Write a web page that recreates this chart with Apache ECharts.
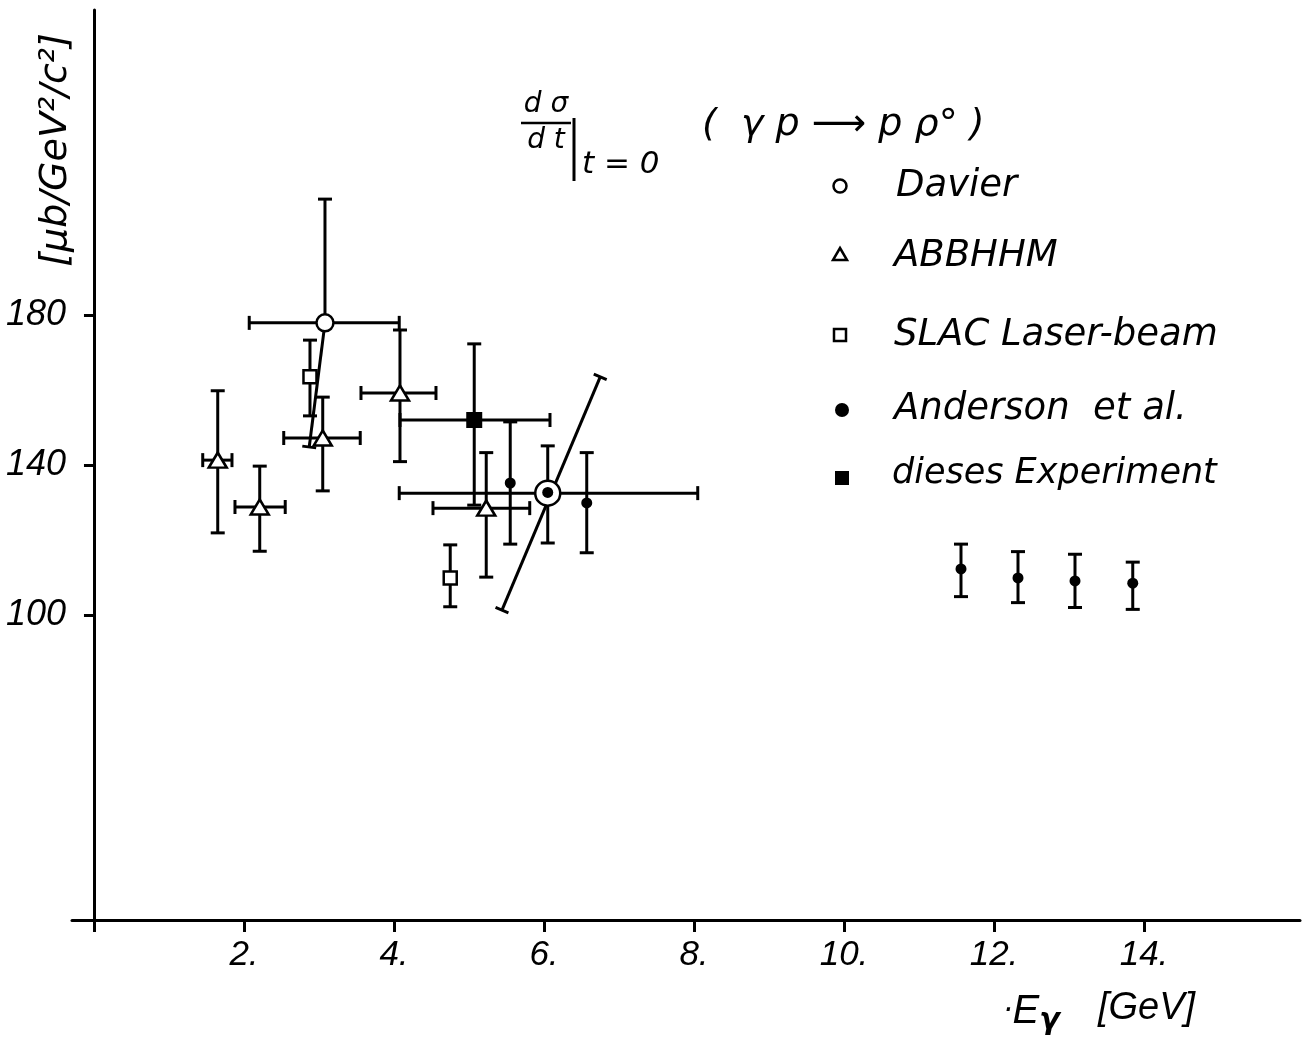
<!DOCTYPE html>
<html><head><meta charset="utf-8">
<script src="https://cdn.jsdelivr.net/npm/echarts@6/dist/echarts.min.js"></script>
<style>html,body{margin:0;padding:0;background:#fff}#c{width:1306px;height:1039px}</style>
</head><body><div id="c"></div>
<script>
// Davier (open circles)
const davierX = [3.08, 6.05];
const davierY = [177.9, 132.5];
const davierXLo = [2.07, 4.07];
const davierXHi = [4.07, 8.05];
const davierYHi = [210.9, null];
const davierSlantLoX = [2.87, 5.44];
const davierSlantLoY = [144.8, 101.3];
const davierSlantHiX = [null, 6.75];
const davierSlantHiY = [null, 163.5];

// ABBHHM (open triangles)
const abbX = [1.65, 2.21, 3.05, 4.08, 5.23];
const abbY = [141.3, 128.8, 147.2, 159.2, 128.5];
const abbXLo = [1.45, 1.88, 2.53, 3.56, 4.52];
const abbXHi = [1.84, 2.55, 3.55, 4.56, 5.81];
const abbYLo = [121.9, 117.0, 133.1, 140.9, 110.1];
const abbYHi = [159.8, 139.7, 158.1, 176.0, 143.3];

// SLAC Laser-beam (open squares)
const slacX = [2.88, 4.75];
const slacY = [163.5, 109.9];
const slacYLo = [153.1, 102.2];
const slacYHi = [173.3, 118.7];

// Anderson et al. (filled circles)
const andX = [5.55, 6.05, 6.57, 11.56, 12.32, 13.08, 13.85];
const andY = [135.2, 132.7, 129.9, 112.3, 109.9, 109.1, 108.5];
const andYLo = [118.9, 119.2, 116.6, 104.9, 103.3, 102.0, 101.5];
const andYHi = [151.5, 145.1, 143.3, 118.9, 116.9, 116.2, 114.1];

// dieses Experiment (filled square)
const expX = [5.07];
const expY = [152.0];
const expXLo = [4.08];
const expXHi = [6.08];
const expYLo = [129.3];
const expYHi = [172.3];

const xTicks = [0, 2, 4, 6, 8, 10, 12, 14];
const xTickLabels = ['', '2.', '4.', '6.', '8.', '10.', '12.', '14.'];
const yTicks = [100, 140, 180];
const yTickLabels = ['100', '140', '180'];

const legendNames = ['Davier', 'ABBHHM', 'SLAC Laser-beam', 'Anderson  et al.', 'dieses Experiment'];

const INK = '#000';
const LABEL_FONT = "'Liberation Sans',sans-serif";
const TEXT_FONT = "'DejaVu Sans',sans-serif";

function errRender(o) {
  return function (params, api) {
    const i = params.dataIndex;
    const c = api.coord([o.x[i], o.y[i]]);
    const ch = [];
    const cap = 7;
    const seg = (a, b) => ch.push({
      type: 'line',
      shape: { x1: a[0], y1: a[1], x2: b[0], y2: b[1] },
      style: { stroke: INK, lineWidth: 3 }
    });
    const hcap = p => seg([p[0] - cap, p[1]], [p[0] + cap, p[1]]);
    const vcap = p => seg([p[0], p[1] - cap], [p[0], p[1] + cap]);
    if (o.yHi && o.yHi[i] != null) { const p = api.coord([o.x[i], o.yHi[i]]); seg(c, p); hcap(p); }
    if (o.yLo && o.yLo[i] != null) { const p = api.coord([o.x[i], o.yLo[i]]); seg(c, p); hcap(p); }
    if (o.xLo && o.xLo[i] != null) { const p = api.coord([o.xLo[i], o.y[i]]); seg(c, p); vcap(p); }
    if (o.xHi && o.xHi[i] != null) { const p = api.coord([o.xHi[i], o.y[i]]); seg(c, p); vcap(p); }
    if (o.sLoX) {
      const a = o.sLoX[i] != null ? api.coord([o.sLoX[i], o.sLoY[i]]) : null;
      const b = o.sHiX[i] != null ? api.coord([o.sHiX[i], o.sHiY[i]]) : null;
      const p1 = a || c, p2 = b || c;
      seg(p1, p2);
      const dx = p2[0] - p1[0], dy = p2[1] - p1[1], L = Math.hypot(dx, dy) || 1;
      const nx = -dy / L * cap, ny = dx / L * cap;
      if (a) seg([a[0] - nx, a[1] - ny], [a[0] + nx, a[1] + ny]);
      if (b) seg([b[0] - nx, b[1] - ny], [b[0] + nx, b[1] + ny]);
    }
    return { type: 'group', children: ch };
  };
}

const pts = (xs, ys) => xs.map((v, i) => [v, ys[i]]);
const openStyle = { color: '#fff', borderColor: INK, borderWidth: 2.5, opacity: 1 };
const it = { fontFamily: TEXT_FONT, fontStyle: 'italic', fill: INK };

const chart = echarts.init(document.getElementById('c'));
chart.setOption({
  animation: false,
  backgroundColor: '#fff',
  grid: { left: 72, top: 10, width: 1228, height: 910, containLabel: false, outerBoundsMode: 'none' },
  xAxis: {
    type: 'value', min: -0.293, max: 16.08,
    splitLine: { show: false },
    axisLine: { show: true, lineStyle: { color: INK, width: 3 } },
    axisTick: { show: true, customValues: xTicks, length: 12, lineStyle: { color: INK, width: 3 } },
    axisLabel: {
      customValues: xTicks, margin: 18,
      formatter: v => xTickLabels[xTicks.indexOf(v)] ?? '',
      color: INK, fontFamily: LABEL_FONT, fontStyle: 'italic', fontSize: 35
    }
  },
  yAxis: {
    type: 'value', min: 18.67, max: 261.33,
    splitLine: { show: false },
    axisLine: { show: true, onZero: true, lineStyle: { color: INK, width: 3 } },
    axisTick: { show: true, customValues: yTicks, length: 10, lineStyle: { color: INK, width: 3 } },
    axisLabel: {
      customValues: yTicks, margin: 6,
      formatter: v => yTickLabels[yTicks.indexOf(v)] ?? '',
      color: INK, fontFamily: LABEL_FONT, fontStyle: 'italic', fontSize: 36
    }
  },
  series: [
    { type: 'custom', name: 'Davier err', data: pts(davierX, davierY), encode: { x: 0, y: 1 }, z: 2,
      renderItem: errRender({ x: davierX, y: davierY, xLo: davierXLo, xHi: davierXHi, yHi: davierYHi,
        sLoX: davierSlantLoX, sLoY: davierSlantLoY, sHiX: davierSlantHiX, sHiY: davierSlantHiY }) },
    { type: 'custom', name: 'ABBHHM err', data: pts(abbX, abbY), encode: { x: 0, y: 1 }, z: 2,
      renderItem: errRender({ x: abbX, y: abbY, xLo: abbXLo, xHi: abbXHi, yLo: abbYLo, yHi: abbYHi }) },
    { type: 'custom', name: 'SLAC err', data: pts(slacX, slacY), encode: { x: 0, y: 1 }, z: 2,
      renderItem: errRender({ x: slacX, y: slacY, yLo: slacYLo, yHi: slacYHi }) },
    { type: 'custom', name: 'Anderson err', data: pts(andX, andY), encode: { x: 0, y: 1 }, z: 2,
      renderItem: errRender({ x: andX, y: andY, yLo: andYLo, yHi: andYHi }) },
    { type: 'custom', name: 'Exp err', data: pts(expX, expY), encode: { x: 0, y: 1 }, z: 2,
      renderItem: errRender({ x: expX, y: expY, xLo: expXLo, xHi: expXHi, yLo: expYLo, yHi: expYHi }) },
    { type: 'scatter', name: legendNames[0], data: pts(davierX, davierY), z: 5, symbol: 'circle',
      symbolSize: (v, p) => p.dataIndex === 1 ? 25 : 17, itemStyle: openStyle },
    { type: 'scatter', name: legendNames[1], data: pts(abbX, abbY), z: 5, symbol: 'triangle',
      symbolSize: [18, 15], itemStyle: openStyle },
    { type: 'scatter', name: legendNames[2], data: pts(slacX, slacY), z: 5, symbol: 'rect',
      symbolSize: 13, itemStyle: openStyle },
    { type: 'scatter', name: legendNames[3], data: pts(andX, andY), z: 6, symbol: 'circle',
      symbolSize: 11, itemStyle: { color: INK, opacity: 1 } },
    { type: 'scatter', name: legendNames[4], data: pts(expX, expY), z: 6, symbol: 'rect',
      symbolSize: 16, itemStyle: { color: INK, opacity: 1 } }
  ],
  graphic: [
    // y-axis name
    { type: 'text', x: 56, y: 150, rotation: Math.PI / 2, z: 10,
      style: Object.assign({ text: '[μb/GeV²/c²]', fontSize: 38, align: 'center', verticalAlign: 'middle' }, it) },
    // x-axis name
    { type: 'text', x: 1003, y: 1012, z: 10,
      style: Object.assign({
        rich: {
          e: { fontFamily: LABEL_FONT, fontStyle: 'italic', fontSize: 40 },
          s: { fontFamily: TEXT_FONT, fontStyle: 'italic', fontWeight: 'bold', fontSize: 30, padding: [18, 0, 0, 0] }
        },
        text: '·{e|E}{s|γ}', fontSize: 30, verticalAlign: 'middle' }, it) },
    { type: 'text', x: 1098, y: 1008, z: 10,
      style: { text: '[GeV]', fontFamily: LABEL_FONT, fontStyle: 'italic', fontSize: 38, fill: INK, verticalAlign: 'middle' } },
    // title
    { type: 'text', x: 546, y: 105, z: 10,
      style: Object.assign({ text: 'd σ', fontSize: 28, align: 'center', verticalAlign: 'middle' }, it) },
    { type: 'line', z: 10, shape: { x1: 521, y1: 123, x2: 571, y2: 123 }, style: { stroke: INK, lineWidth: 2.5 } },
    { type: 'text', x: 546, y: 141, z: 10,
      style: Object.assign({ text: 'd t', fontSize: 28, align: 'center', verticalAlign: 'middle' }, it) },
    { type: 'line', z: 10, shape: { x1: 574, y1: 118, x2: 574, y2: 181 }, style: { stroke: INK, lineWidth: 3 } },
    { type: 'text', x: 582, y: 165, z: 10,
      style: Object.assign({ text: 't = 0', fontSize: 31, verticalAlign: 'middle' }, it) },
    { type: 'text', x: 702, y: 125, z: 10,
      style: Object.assign({ text: '(  γ p ⟶ p ρ° )', fontSize: 38, verticalAlign: 'middle' }, it) },
    // legend markers
    { type: 'circle', z: 10, shape: { cx: 840, cy: 186, r: 6.5 }, style: { fill: '#fff', stroke: INK, lineWidth: 2.5 } },
    { type: 'polygon', z: 10, shape: { points: [[840, 248], [847, 260], [833, 260]] }, style: { fill: '#fff', stroke: INK, lineWidth: 2.5 } },
    { type: 'rect', z: 10, shape: { x: 834, y: 329, width: 12, height: 12 }, style: { fill: '#fff', stroke: INK, lineWidth: 2.5 } },
    { type: 'circle', z: 10, shape: { cx: 842, cy: 410, r: 7 }, style: { fill: INK } },
    { type: 'rect', z: 10, shape: { x: 835, y: 471, width: 14, height: 14 }, style: { fill: INK } },
    { type: 'text', x: 896, y: 186, z: 10, style: Object.assign({ text: legendNames[0], fontSize: 37, verticalAlign: 'middle' }, it) },
    { type: 'text', x: 894, y: 256, z: 10, style: Object.assign({ text: legendNames[1], fontSize: 37, verticalAlign: 'middle' }, it) },
    { type: 'text', x: 894, y: 335, z: 10, style: Object.assign({ text: legendNames[2], fontSize: 37, verticalAlign: 'middle' }, it) },
    { type: 'text', x: 894, y: 409, z: 10, style: Object.assign({ text: legendNames[3], fontSize: 37, verticalAlign: 'middle' }, it) },
    { type: 'text', x: 892, y: 474, z: 10, style: Object.assign({ text: legendNames[4], fontSize: 35, verticalAlign: 'middle' }, it) }
  ]
});
</script></body></html>
